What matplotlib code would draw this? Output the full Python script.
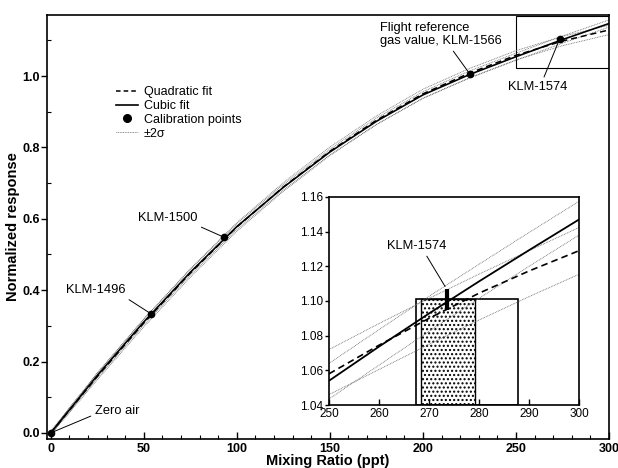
import matplotlib
matplotlib.use('Agg')
import matplotlib.pyplot as plt
from matplotlib.lines import Line2D
from matplotlib.patches import Rectangle
import numpy as np

plt.rcParams['font.family'] = ['Liberation Sans', 'DejaVu Sans']

# fitted curves
mix = [0, 25, 50, 75, 100, 125, 150, 175, 200, 225, 250, 275, 300]
cubic = [0, 0.161, 0.311, 0.450, 0.578, 0.688, 0.787, 0.873, 0.947, 1.004, 1.054, 1.102, 1.147]
quad = [0, 0.158, 0.308, 0.448, 0.577, 0.689, 0.789, 0.876, 0.950, 1.008, 1.058, 1.098, 1.129]
cubic_2sig = [0.004, 0.007, 0.008, 0.008, 0.008, 0.008, 0.008, 0.009, 0.009, 0.010, 0.010, 0.010, 0.010]
quad_2sig = [0.005, 0.009, 0.011, 0.012, 0.012, 0.012, 0.012, 0.012, 0.013, 0.013, 0.013, 0.013, 0.013]

# calibration standards
cal_names = ['Zero air', 'KLM-1496', 'KLM-1500', 'KLM-1566', 'KLM-1574']
cal_x = [0, 54.1, 93.2, 225.3, 273.5]
cal_y = [0, 0.333, 0.548, 1.005, 1.104]

# inset (250-300 ppt)
inset_x = [250, 260, 270, 280, 290, 300]
inset_cubic = [1.054, 1.0737, 1.0928, 1.1113, 1.1293, 1.147]
inset_quad = [1.058, 1.0745, 1.0900, 1.1045, 1.1173, 1.129]
inset_cubic_hi = [1.064, 1.0835, 1.1027, 1.1212, 1.1395, 1.1575]
inset_cubic_lo = [1.0435, 1.063, 1.0825, 1.1015, 1.120, 1.138]
inset_quad_hi = [1.072, 1.0870, 1.1015, 1.1155, 1.129, 1.1424]
inset_quad_lo = [1.046, 1.0605, 1.0750, 1.0890, 1.1025, 1.1154]
klm1574_inset_y = 1.101
klm1574_err = 0.006
range_outer = (267.4, 287.7)
range_inner = (268.3, 279.2)
range_top = 1.101

dot = dict(color='0.4', lw=0.6, ls=(0, (1, 1)))

fig = plt.figure(figsize=(6.18, 4.68), dpi=100)
ax = fig.add_axes([0.0761, 0.062, 0.9093, 0.906])

mix_a = np.array(mix)
for c, s in [(cubic, cubic_2sig), (quad, quad_2sig)]:
    ax.plot(mix_a, np.array(c) + np.array(s), **dot)
    ax.plot(mix_a, np.array(c) - np.array(s), **dot)
ax.plot(mix, quad, 'k--', lw=1.1, dashes=(4, 2.5))
ax.plot(mix, cubic, 'k-', lw=1.2)
ax.plot(cal_x, cal_y, 'ko', ms=4.5)

ax.add_patch(Rectangle((250, 1.022), 50, 0.146, fill=False, ec='k', lw=0.8))

ax.set_xlim(-2, 300)
ax.set_ylim(-0.017, 1.171)
ax.set_xticks(np.arange(0, 301, 50))
ax.set_xticks(np.arange(0, 301, 10), minor=True)
ax.set_yticks(np.arange(0, 1.01, 0.2))
ax.set_yticks(np.arange(0.1, 1.11, 0.2), minor=True)
ax.set_yticklabels(['%.1f' % v for v in np.arange(0, 1.01, 0.2)])
ax.tick_params(axis='x', which='both', direction='in')
ax.tick_params(axis='x', which='major', length=5, width=1, pad=3)
ax.tick_params(axis='x', which='minor', length=3, width=0.8)
ax.tick_params(axis='y', which='major', direction='out', length=4, width=1, pad=1)
ax.tick_params(axis='y', which='minor', direction='in', length=3, width=0.8)
for lab in ax.get_xticklabels() + ax.get_yticklabels():
    lab.set_fontweight('bold')
    lab.set_fontsize(9)
for sp in ax.spines.values():
    sp.set_linewidth(1.2)
ax.set_xlabel('Mixing Ratio (ppt)', fontsize=10.5, fontweight='bold', labelpad=-1)
ax.set_ylabel('Normalized response', fontsize=10.5, fontweight='bold', labelpad=2)

arr = dict(arrowstyle='-', color='k', lw=0.7, shrinkA=1, shrinkB=2)
fs = 9.3
ax.annotate(cal_names[0], xy=(cal_x[0], cal_y[0]), xytext=(23.7, 0.062), ha='left', va='center',
            fontsize=fs, arrowprops=dict(arr, relpos=(0, 0.2)))
ax.annotate(cal_names[1], xy=(cal_x[1], cal_y[1]), xytext=(8.1, 0.40), ha='left', va='center',
            fontsize=fs, arrowprops=dict(arr, relpos=(0.97, 0)))
ax.annotate(cal_names[2], xy=(cal_x[2], cal_y[2]), xytext=(46.8, 0.602), ha='left', va='center',
            fontsize=fs, arrowprops=dict(arr, relpos=(0.95, 0)))
ax.annotate('Flight reference\ngas value, ' + cal_names[3], xy=(cal_x[3], cal_y[3]), xytext=(176.9, 1.116),
            ha='left', va='center', fontsize=fs, linespacing=1.15, arrowprops=dict(arr, relpos=(0.58, 0)))
ax.annotate(cal_names[4], xy=(cal_x[4], cal_y[4]), xytext=(245.7, 0.969), ha='left', va='center',
            fontsize=fs, arrowprops=dict(arr, relpos=(0.58, 1)))

handles = [Line2D([], [], color='k', ls='--', lw=1.1, dashes=(3, 2)),
           Line2D([], [], color='k', lw=1.2),
           Line2D([], [], color='k', marker='o', ls='none', ms=5.5),
           Line2D([], [], **dot)]
fig.legend(handles, ['Quadratic fit', 'Cubic fit', 'Calibration points', '\u00b12\u03c3'],
           loc='upper left', bbox_to_anchor=(116 / 618, 1 - 86 / 468), frameon=False,
           fontsize=9, handlelength=1.75, handletextpad=0.45, labelspacing=0.15,
           borderpad=0, borderaxespad=0)

# inset
axi = fig.add_axes([0.5324, 0.1346, 0.4045, 0.4445])
axi.add_patch(Rectangle((range_inner[0], 1.04), range_inner[1] - range_inner[0], range_top - 1.04,
                        facecolor='white', edgecolor='k', hatch='....', lw=1.0))
axi.add_patch(Rectangle((range_outer[0], 1.04), range_outer[1] - range_outer[0], range_top - 1.04,
                        fill=False, edgecolor='k', lw=1.2))
for band in [inset_cubic_hi, inset_cubic_lo, inset_quad_hi, inset_quad_lo]:
    axi.plot(inset_x, band, **dot)
axi.plot(inset_x, inset_quad, 'k--', lw=1.2, dashes=(4, 2.5))
axi.plot(inset_x, inset_cubic, 'k-', lw=1.3)
axi.errorbar([cal_x[4]], [klm1574_inset_y], yerr=klm1574_err, fmt='none', ecolor='k', elinewidth=3, capsize=0)
axi.annotate(cal_names[4], xy=(cal_x[4], klm1574_inset_y + klm1574_err), xytext=(261.6, 1.1316),
             ha='left', va='center', fontsize=fs, arrowprops=dict(arr, relpos=(0.63, 0)))
axi.set_xlim(250, 300)
axi.set_ylim(1.04, 1.16)
axi.set_xticks(np.arange(250, 301, 10))
axi.set_yticks(np.arange(1.04, 1.161, 0.02))
axi.set_yticklabels(['%.2f' % v for v in np.arange(1.04, 1.161, 0.02)])
axi.tick_params(axis='x', direction='in', length=4, width=1, labelsize=8.5, pad=2)
axi.tick_params(axis='y', direction='out', length=3, width=1, labelsize=8.5, pad=1.5)
for sp in axi.spines.values():
    sp.set_linewidth(1.2)

fig.savefig('out.png', dpi=100)
